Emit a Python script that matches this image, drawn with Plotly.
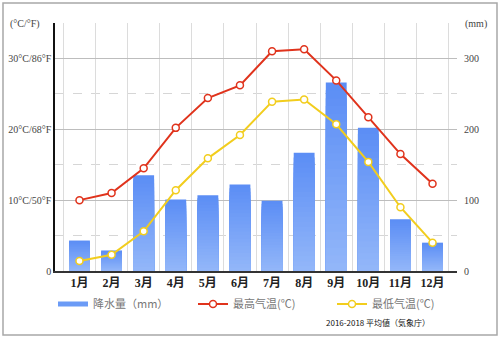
import plotly.graph_objects as go

months = ["1月", "2月", "3月", "4月", "5月", "6月", "7月", "8月", "9月", "10月", "11月", "12月"]
precip_mm = [43, 29, 135, 101, 107, 122, 99, 167, 266, 202, 73, 40]
temp_max = [10.0, 11.0, 14.5, 20.2, 24.4, 26.2, 31.0, 31.3, 26.9, 21.7, 16.5, 12.3]
temp_min = [1.4, 2.3, 5.6, 11.4, 15.9, 19.2, 23.9, 24.2, 20.7, 15.4, 9.0, 4.0]

temp_ticks = [0, 10, 20, 30]
temp_ticktext = ["0", "10°C/50°F", "20°C/68°F", "30°C/86°F"]
precip_ticks = [0, 100, 200, 300]

serif = "Liberation Serif, DejaVu Serif, Noto Sans CJK SC"
cjk = "Noto Sans CJK SC, Noto Sans CJK JP, sans-serif"

W, H = 500, 338
L, R, T, B = 55, 43, 23, 67
pw, ph = W - L - R, H - T - B

def px(x):
    return (x - L) / pw

def py(y):
    return (H - B - y) / ph

BLUE, RED, YELLOW = "#6b9bf6", "#e0331c", "#f2cd1d"
BAR_TOP, BAR_BOTTOM = (0x5c, 0x8e, 0xf5), (0x92, 0xb6, 0xf9)

def mix(c0, c1, t):
    return "rgb({},{},{})".format(*[round(a + (b - a) * t) for a, b in zip(c0, c1)])

fig = go.Figure()

# precipitation bars, shaded top-to-bottom by overlaying progressively
# shorter and lighter copies of each bar
steps = 24
for k in range(steps):
    frac = 1 - k / steps
    fig.add_trace(go.Bar(
        x=months, y=[v * frac for v in precip_mm], yaxis="y", showlegend=False,
        marker=dict(color=mix(BAR_TOP, BAR_BOTTOM, k / (steps - 1)), line=dict(width=0)),
        width=0.65, hoverinfo="skip" if k else None,
        name="降水量（mm）",
    ))
# legend key for the bars: a short thick bar-coloured stroke
fig.add_trace(go.Scatter(
    x=[None], y=[None], name="降水量（mm）", mode="lines", legend="legend",
    line=dict(color=BLUE, width=5), showlegend=True,
))
fig.add_trace(go.Scatter(
    x=months, y=temp_max, name="最高气温(℃)", mode="lines+markers", yaxis="y2",
    legend="legend2", showlegend=True,
    line=dict(color=RED, width=2),
    marker=dict(size=7, color="white", line=dict(color=RED, width=1.5)),
))
fig.add_trace(go.Scatter(
    x=months, y=temp_min, name="最低气温(℃)", mode="lines+markers", yaxis="y2",
    legend="legend3", showlegend=True,
    line=dict(color=YELLOW, width=2),
    marker=dict(size=7, color="white", line=dict(color=YELLOW, width=1.5)),
))

legend_style = dict(
    orientation="h", yanchor="middle", xanchor="left",
    font=dict(family=cjk, size=11, color="#777"),
    itemwidth=30, bgcolor="rgba(0,0,0,0)", borderwidth=0,
)

fig.update_layout(
    width=W, height=H,
    margin=dict(l=L, r=R, t=T, b=B, autoexpand=False),
    paper_bgcolor="white", plot_bgcolor="white",
    showlegend=True, barmode="overlay",
    xaxis=dict(
        type="category", tickson="boundaries", showgrid=True,
        gridcolor="#dcdcdc", gridwidth=1,
        showline=True, linecolor="#333", linewidth=2,
        ticks="", tickangle=0, automargin=False,
        tickfont=dict(family=serif, size=12, color="#222", weight="bold"),
    ),
    yaxis=dict(
        range=[0, 350], tickvals=precip_ticks, side="right",
        showgrid=True, gridcolor="#bdbdbd", gridwidth=1,
        minor=dict(dtick=50, showgrid=True, gridcolor="#d6d6d6", griddash="dash", gridwidth=1),
        showline=False, zeroline=False, ticks="", automargin=False,
        tickfont=dict(family=serif, size=10, color="#444"),
        ticklabelstandoff=6,
    ),
    yaxis2=dict(
        range=[0, 35], tickvals=temp_ticks, ticktext=temp_ticktext,
        overlaying="y", side="left", showgrid=False,
        showline=True, linecolor="#111", linewidth=1.5,
        zeroline=False, ticks="", automargin=False,
        tickfont=dict(family=serif, size=10, color="#444"),
    ),
    legend=dict(x=px(53), y=py(304), **legend_style),
    legend2=dict(x=px(193), y=py(304), **legend_style),
    legend3=dict(x=px(332), y=py(304), **legend_style),
)

fig.add_annotation(
    x=px(8), y=py(24), xref="paper", yref="paper", xanchor="left", yanchor="middle",
    text="(°C/°F)", showarrow=False, font=dict(family=serif, size=10, color="#444"),
)
fig.add_annotation(
    x=px(463), y=py(24), xref="paper", yref="paper", xanchor="left", yanchor="middle",
    text="(mm)", showarrow=False, font=dict(family=serif, size=10, color="#444"),
)
fig.add_annotation(
    x=px(432), y=py(322), xref="paper", yref="paper", xanchor="right", yanchor="middle",
    text="2016-2018 平均値（気象庁）", showarrow=False,
    font=dict(family=cjk, size=8, color="#111"),
)

# outer frame around the whole figure
fig.add_shape(
    type="rect", xref="paper", yref="paper",
    x0=px(3), x1=px(497), y0=py(335), y1=py(3),
    line=dict(color="#a8a8a8", width=1.5), fillcolor="rgba(0,0,0,0)", layer="below",
)

fig.write_html("out.html")
